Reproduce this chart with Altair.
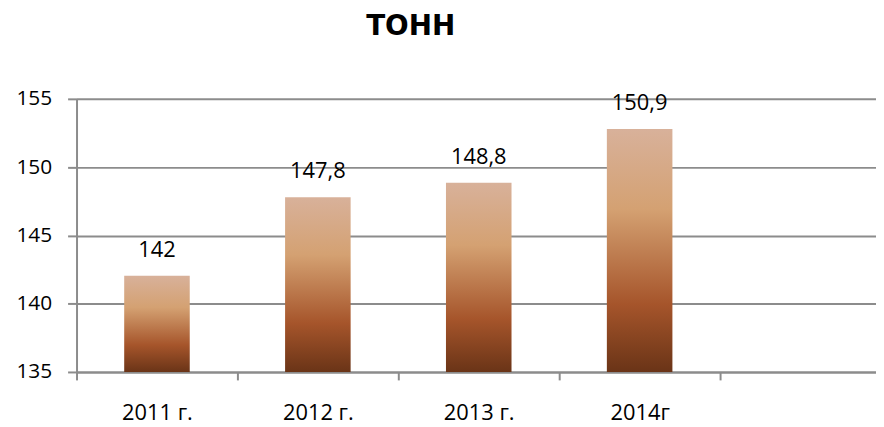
import altair as alt
import pandas as pd

categories = ["2011 г.", "2012 г.", "2013 г.", "2014г", " "]
bar_years = ["2011 г.", "2012 г.", "2013 г.", "2014г"]
bar_values = [142.05, 147.8, 148.85, 152.8]
label_texts = ["142", "147,8", "148,8", "150,9"]
y_ticks = [135, 140, 145, 150, 155]
y_min, y_max = 135, 155

df = pd.DataFrame({"year": bar_years, "value": bar_values, "label": label_texts})

FONT = "Open Sans"

gradient = alt.Gradient(
    gradient="linear",
    x1=0, y1=0, x2=0, y2=1,
    stops=[
        alt.GradientStop(color="#D8B19A", offset=0),
        alt.GradientStop(color="#D4A172", offset=0.33),
        alt.GradientStop(color="#A6552B", offset=0.72),
        alt.GradientStop(color="#6A3417", offset=1),
    ],
)

x_scale = alt.Scale(domain=categories, paddingInner=0, paddingOuter=0, range=[0, 810])

x_enc = alt.X(
    "year:N",
    scale=x_scale,
    axis=alt.Axis(
        title=None, labelAngle=0, tickBand="extent", grid=False,
        domainColor="#8C8C8C", domainWidth=2, tickColor="#8C8C8C", tickWidth=2,
        tickSize=8, labelPadding=23, labelFontSize=22, labelFont=FONT,
        labelColor="#000000",
    ),
)
y_enc = alt.Y(
    "value:Q",
    scale=alt.Scale(domain=[y_min, y_max], nice=False, zero=False),
    axis=alt.Axis(
        title=None, values=y_ticks, grid=True, gridColor="#8C8C8C", gridWidth=2,
        domainColor="#8C8C8C", domainWidth=2, tickColor="#8C8C8C", tickWidth=2,
        tickSize=9, labelPadding=16, labelFontSize=21, labelFont=FONT,
        labelColor="#000000",
    ),
)

bars = alt.Chart(df).mark_bar(width=66, fill=gradient, stroke=None).encode(
    x=x_enc, y=y_enc, y2=alt.datum(y_min)
)
labels = alt.Chart(df).mark_text(
    dy=-26, fontSize=22, font=FONT, color="#000000", baseline="middle"
).encode(x=alt.X("year:N", scale=x_scale), y="value:Q", text="label:N")

chart = alt.layer(bars, labels).properties(
    width=805,
    height=275,
    autosize=alt.AutoSizeParams(type="none"),
    padding={"left": 69, "top": 90, "right": 0, "bottom": 62},
    title=alt.TitleParams(
        "ТОНН", font="DejaVu Sans", fontSize=28, fontWeight="bold",
        color="#000000", anchor="middle", dx=-66, offset=47,
    ),
).configure_view(stroke=None)

chart.save("out.html", embed_options={"renderer": "svg", "actions": False})
